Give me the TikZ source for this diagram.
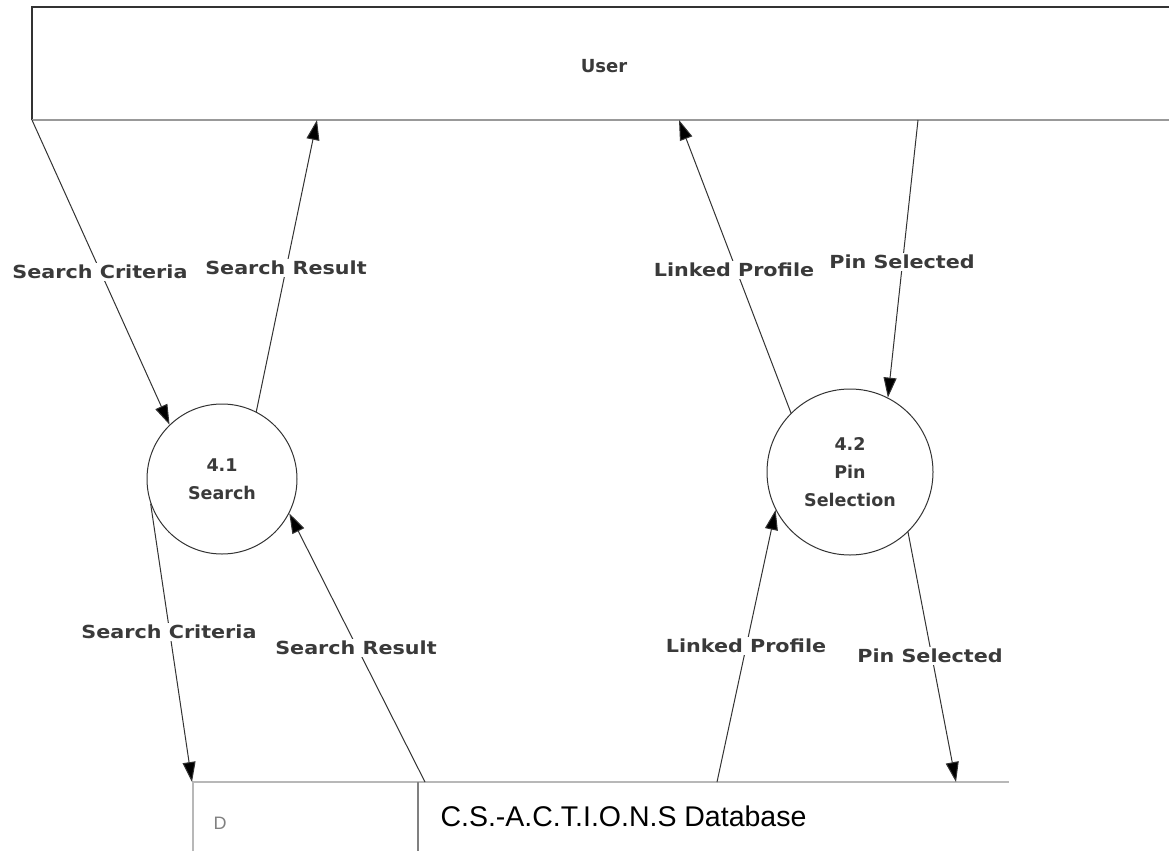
\documentclass[tikz,border=0pt]{standalone}
\usepackage{fontspec}
\usetikzlibrary{arrows.meta}
\newfontfamily\labfont{DejaVu Sans Bold}[FakeStretch=1.15]
\newfontfamily\procfont{DejaVu Sans Bold}
\newfontfamily\arialfont{Liberation Sans}
\definecolor{txtgray}{HTML}{3A3A3A}
\definecolor{linegray}{HTML}{333333}
\definecolor{lightline}{HTML}{B8B8B8}
\tikzset{
  flow/.style={draw=linegray, line width=1pt, -{Triangle[length=20pt,width=13pt,fill=black]}},
  flowlabel/.style={fill=white, inner sep=2pt, text=txtgray, font=\labfont\fontsize{18}{20}\selectfont},
  process/.style={circle, draw=linegray, line width=1pt, inner sep=0pt, align=center, text=txtgray,
    font=\procfont\fontsize{17.5}{28}\selectfont},
}
\begin{document}
\begin{tikzpicture}[x=1pt,y=-1pt]
\useasboundingbox (0,0) rectangle (1169,851);
% User external entity
\draw[linegray, line width=1.5pt] (1169,7) -- (32,7) -- (32,120);
\draw[gray!80, line width=1.5pt] (32,120) -- (1169,120);
\node[text=txtgray, font=\procfont\fontsize{18}{20}\selectfont] (user) at (604,66) {User};
\coordinate (u1) at (32,120);
\coordinate (u2) at (317,120);
\coordinate (u3) at (679,120);
\coordinate (u4) at (918,120);
% processes
\node[process, minimum size=150pt] (p1) at (222,479) {4.1\\Search};
\node[process, minimum size=166pt] (p2) at (850,472) {4.2\\Pin\\Selection};
% data store
\draw[lightline, line width=2pt] (193,851) -- (193,782) -- (1009,782);
\draw[gray, line width=1.5pt] (418,782) -- (418,851);
\node[text=gray, font=\arialfont\fontsize{18}{20}\selectfont] (dlab) at (220,823) {D};
\node[text=black, anchor=west, font=\arialfont\fontsize{28.5}{32}\selectfont] (dbname) at (437,816) {C.S.-A.C.T.I.O.N.S Database};
\coordinate (d1) at (192,782);
\coordinate (d2) at (425,782);
\coordinate (d3) at (717,782);
\coordinate (d4) at (956,782);
% flows
\draw[flow] (u1) -- (p1.134);
\draw[flow] (p1.63) -- (u2);
\draw[flow] (p2.135) -- (u3);
\draw[flow] (u4) -- (p2.63);
\draw[flow] (p1.199) -- (d1);
\draw[flow] (d2) -- (p1.333);
\draw[flow] (d3) -- (p2.207);
\draw[flow] (p2.314) -- (d4);
% labels
\node[flowlabel] (l1) at (100,272) {Search Criteria};
\node[flowlabel] (l2) at (286,268) {Search Result};
\node[flowlabel] (l3) at (734,270) {Linked Profile};
\node[flowlabel] (l4) at (902,262) {Pin Selected};
\node[flowlabel] (l5) at (169,632) {Search Criteria};
\node[flowlabel] (l6) at (356,648) {Search Result};
\node[flowlabel] (l7) at (746,646) {Linked Profile};
\node[flowlabel] (l8) at (930,656) {Pin Selected};
\end{tikzpicture}
\end{document}
